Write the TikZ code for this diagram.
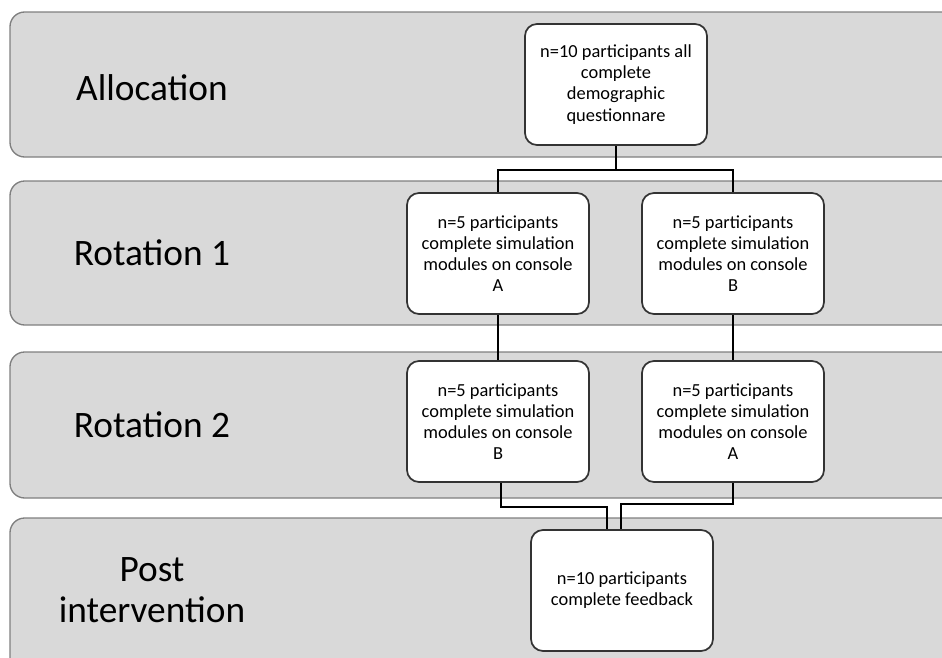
\documentclass[tikz,border=0pt]{standalone}
\usepackage{fontspec}
\setmainfont{Carlito}
\usetikzlibrary{calc}
\definecolor{bandfill}{HTML}{D9D9D9}
\definecolor{bandline}{HTML}{7F7F7F}
\definecolor{boxline}{HTML}{333333}
\tikzset{
  band/.style={fill=bandfill, draw=bandline, line width=1pt, rounded corners=11pt},
  lanelabel/.style={font=\fontsize{28}{31}\selectfont, align=center, inner sep=0pt},
  stepbox/.style={draw=boxline, fill=white, line width=1.3pt, rounded corners=9pt,
    minimum width=136.5pt, minimum height=90.75pt, inner sep=0pt, align=center,
    font=\fontsize{13.8}{15.8}\selectfont},
  conn/.style={draw=black, line width=1.4pt}
}
\begin{document}
\begin{tikzpicture}[x=0.75pt, y=-0.75pt]
\useasboundingbox (0,0) rectangle (942,657);
% bands
\filldraw[band] (970,12) -- (10,12) -- (10,157) -- (970,157);
\filldraw[band] (970,181) -- (10,181) -- (10,325) -- (970,325);
\filldraw[band] (970,352) -- (10,352) -- (10,498) -- (970,498);
\filldraw[band] (970,518) -- (10,518) -- (10,700) -- (970,700);
% lane labels
\node[lanelabel] (lab1) at (152,88) {Allocation};
\node[lanelabel] (lab2) at (152,253) {Rotation 1};
\node[lanelabel] (lab3) at (152,425) {Rotation 2};
\node[lanelabel] (lab4) at (152,590) {Post\\intervention};
% boxes
\node[stepbox] (top) at (616,84.5) {n=10 participants all\\complete\\demographic\\questionnare};
\node[stepbox] (r1L) at (498,253.5) {n=5 participants\\complete simulation\\modules on console\\A};
\node[stepbox] (r1R) at (733,253.5) {n=5 participants\\complete simulation\\modules on console\\B};
\node[stepbox] (r2L) at (498,421.5) {n=5 participants\\complete simulation\\modules on console\\B};
\node[stepbox] (r2R) at (733,421.5) {n=5 participants\\complete simulation\\modules on console\\A};
\node[stepbox] (post) at (622,590.5) {n=10 participants\\complete feedback};
% connectors
\coordinate (split) at (0,170);
\draw[conn] (top.south) -- (top.south |- split);
\draw[conn] (r1L.north) -- (r1L.north |- split) -| (r1R.north);
\draw[conn] (r1L.south) -- (r2L.north);
\draw[conn] (r1R.south) -- (r2R.north);
\coordinate (inL) at ($(post.north)+(-15,0)$);
\coordinate (inR) at ($(post.north)+(-1,0)$);
\coordinate (joinL) at (0,507);
\coordinate (joinR) at (0,504);
\draw[conn] ($(r2L.south)+(3,0)$) |- (inL |- joinL) -- (inL);
\draw[conn] (r2R.south) |- (inR |- joinR) -- (inR);
\end{tikzpicture}
\end{document}
